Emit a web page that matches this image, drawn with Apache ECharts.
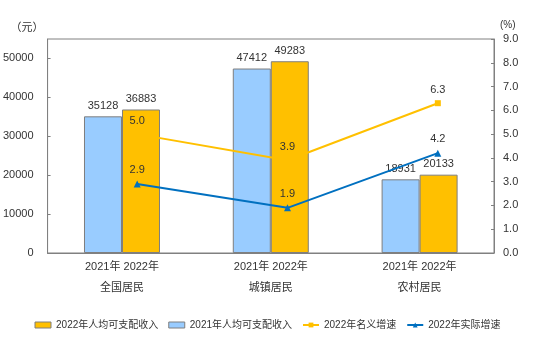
<!DOCTYPE html>
<html><head><meta charset="utf-8">
<script src="https://cdn.jsdelivr.net/npm/echarts@6/dist/echarts.min.js"></script>
<style>html,body{margin:0;padding:0;background:#fff}#c{width:535px;height:359px}</style>
</head><body><div id="c"></div>
<script>
const categories = ['全国居民', '城镇居民', '农村居民'];
const years = ['2021年', '2022年'];
const income2021 = [35128, 47412, 18931];
const income2022 = [36883, 49283, 20133];
const nominalGrowth = [5.0, 3.9, 6.3];
const realGrowth = [2.9, 1.9, 4.2];
const leftTicks = { min: 0, max: 55000, interval: 10000 };
const rightTicks = { min: 0, max: 9, interval: 1 };

const font = 'Liberation Sans, Noto Sans CJK SC, sans-serif';
const txt = '#333';
const axisCol = '#808080';
const chart = echarts.init(document.getElementById('c'));
chart.setOption({
  animation: false,
  textStyle: { fontFamily: font },
  grid: [
    { left: 43, right: 41, top: 39, bottom: 106, show: true, borderColor: axisCol, borderWidth: 1 },
    { left: 62, right: 22, top: 39, bottom: 106 }
  ],
  legend: {
    bottom: 24, left: 'center', itemGap: 10,
    textStyle: { fontSize: 10, color: txt, fontFamily: font },
    data: [
      { name: '2022年人均可支配收入', icon: 'rect', itemStyle: { borderColor: '#7f7f7f', borderWidth: 1 } },
      { name: '2021年人均可支配收入', icon: 'rect', itemStyle: { borderColor: '#7f7f7f', borderWidth: 1 } },
      { name: '2022年名义增速' },
      { name: '2022年实际增速' }
    ],
    itemWidth: 16, itemHeight: 6
  },
  xAxis: [
    {
      type: 'category', gridIndex: 0, data: categories,
      axisLine: { lineStyle: { color: axisCol } },
      axisTick: { show: false },
      axisLabel: {
        color: txt, fontSize: 11, lineHeight: 21, margin: 3,
        formatter: (v) => years.join(' ') + '\n' + v
      }
    },
    { type: 'category', gridIndex: 1, data: categories, show: false }
  ],
  yAxis: [
    {
      type: 'value', gridIndex: 0, position: 'left', min: leftTicks.min, max: leftTicks.max, interval: leftTicks.interval,
      name: '（元）', nameGap: 6,
      nameTextStyle: { color: txt, fontSize: 11, align: 'right', padding: [0, 4, 0, 0] },
      axisLine: { show: true, lineStyle: { color: axisCol } },
      axisTick: { show: true, inside: true, length: 3, lineStyle: { color: axisCol } },
      axisLabel: { color: txt, fontSize: 11, margin: 14, showMaxLabel: false, formatter: (v) => String(v) },
      splitLine: { show: false }
    },
    {
      type: 'value', gridIndex: 0, position: 'right', min: rightTicks.min, max: rightTicks.max, interval: rightTicks.interval,
      name: '(%)', nameGap: 9,
      nameTextStyle: { color: txt, fontSize: 10, align: 'left', padding: [0, 0, 0, 6] },
      axisLine: { show: true, lineStyle: { color: axisCol } },
      axisTick: { show: true, inside: true, length: 3, lineStyle: { color: axisCol } },
      axisLabel: { color: txt, fontSize: 11, margin: 9, formatter: (v) => v.toFixed(1) },
      splitLine: { show: false }
    },
    { type: 'value', gridIndex: 1, min: rightTicks.min, max: rightTicks.max, show: false, splitLine: { show: false } }
  ],
  series: [
    {
      name: '2021年人均可支配收入', type: 'bar', xAxisIndex: 0, yAxisIndex: 0,
      data: income2021, barWidth: 38, barGap: '0%',
      itemStyle: { color: '#99CCFF', borderColor: '#7f7f7f', borderWidth: 1 },
      label: { show: true, position: 'top', distance: 5, color: txt, fontSize: 11 }
    },
    {
      name: '2022年人均可支配收入', type: 'bar', xAxisIndex: 0, yAxisIndex: 0,
      data: income2022, barWidth: 38, barGap: '0%',
      itemStyle: { color: '#FFC000', borderColor: '#7f7f7f', borderWidth: 1 },
      label: { show: true, position: 'top', distance: 5, color: txt, fontSize: 11 }
    },
    {
      name: '2022年名义增速', type: 'line', xAxisIndex: 1, yAxisIndex: 2,
      data: nominalGrowth, symbol: 'rect', symbolSize: 6, z: 5,
      itemStyle: { color: '#FFC000' }, lineStyle: { color: '#FFC000', width: 2 },
      label: { show: true, position: 'top', distance: 5, color: txt, fontSize: 11, formatter: (p) => p.value.toFixed(1) }
    },
    {
      name: '2022年实际增速', type: 'line', xAxisIndex: 1, yAxisIndex: 2,
      data: realGrowth, symbol: 'triangle', symbolSize: 7, z: 5,
      itemStyle: { color: '#0070C0' }, lineStyle: { color: '#0070C0', width: 2 },
      label: { show: true, position: 'top', distance: 5, color: txt, fontSize: 11, formatter: (p) => p.value.toFixed(1) }
    }
  ]
});
</script></body></html>
